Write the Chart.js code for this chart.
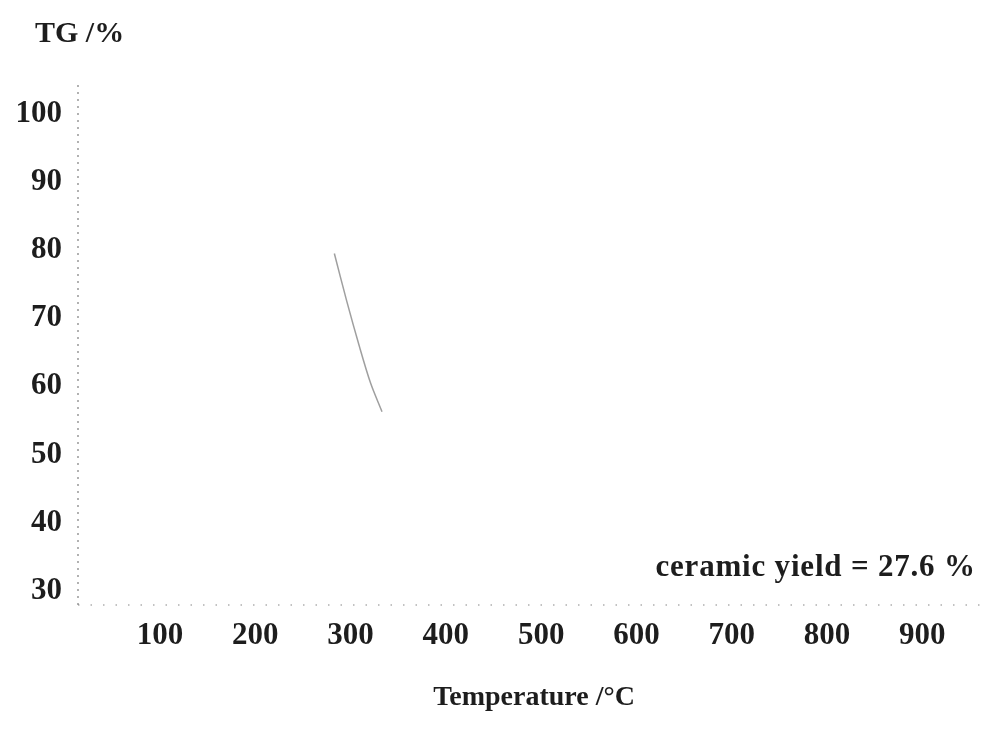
<!DOCTYPE html>
<html>
<head>
<meta charset="utf-8">
<script src="https://cdn.jsdelivr.net/npm/chart.js@4.4.1/dist/chart.umd.min.js"></script>
<style>
  html, body { margin: 0; padding: 0; background: #ffffff; }
  #wrap { width: 997px; height: 733px; position: relative; }
</style>
</head>
<body>
<div id="wrap"><canvas id="tg"></canvas></div>
<script>
// Thermogravimetric trace: temperature (°C) against residual mass (%)
const temperature = [283, 296, 309, 321, 333];
const massPercent = [79.5, 72.5, 66.0, 60.5, 56.3];

const xTicks = [100, 200, 300, 400, 500, 600, 700, 800, 900];
const yTicks = [30, 40, 50, 60, 70, 80, 90, 100];

const yAxisTitle = 'TG /%';
const xAxisTitle = 'Temperature /°C';
const yieldNote = 'ceramic yield = 27.6 %';
const yieldNoteAt = { x: 956, y: 33.4 };

const serif = '"Liberation Serif", "Times New Roman", serif';
const ink = '#1d1d1d';

// dotted axis lines and free-standing captions
const axesAndText = {
  id: 'tgAxesText',
  beforeDatasetsDraw(chart) {
    const ctx = chart.ctx;
    const { left, right, top, bottom } = chart.chartArea;
    ctx.save();
    ctx.lineWidth = 1.4;
    ctx.strokeStyle = 'rgba(110,110,110,0.75)';
    ctx.setLineDash([2, 5]);
    ctx.beginPath();
    ctx.moveTo(left, top);
    ctx.lineTo(left, bottom);
    ctx.stroke();
    ctx.strokeStyle = 'rgba(120,120,120,0.6)';
    ctx.setLineDash([1.5, 11]);
    ctx.beginPath();
    ctx.moveTo(left, bottom);
    ctx.lineTo(right, bottom);
    ctx.stroke();
    ctx.restore();
  },
  afterDraw(chart) {
    const ctx = chart.ctx;
    const xs = chart.scales.x, ys = chart.scales.y;
    ctx.save();
    ctx.fillStyle = ink;
    ctx.textBaseline = 'middle';
    ctx.font = 'bold 30px ' + serif;
    ctx.textAlign = 'left';
    ctx.fillText(yAxisTitle, 35, 34);
    ctx.font = 'bold 31px ' + serif;
    ctx.letterSpacing = '0.8px';
    ctx.textAlign = 'right';
    ctx.fillText(yieldNote, xs.getPixelForValue(yieldNoteAt.x), ys.getPixelForValue(yieldNoteAt.y));
    ctx.letterSpacing = '0px';
    ctx.font = 'bold 28px ' + serif;
    ctx.textAlign = 'center';
    ctx.fillText(xAxisTitle, (chart.chartArea.left + chart.chartArea.right) / 2, 698);
    ctx.restore();
  }
};

new Chart(document.getElementById('tg'), {
  type: 'line',
  data: {
    datasets: [{
      data: temperature.map((t, i) => ({ x: t, y: massPercent[i] })),
      borderColor: 'rgba(135,135,135,0.8)',
      borderWidth: 1.5,
      pointRadius: 0,
      tension: 0.3,
      fill: false
    }]
  },
  options: {
    responsive: true,
    maintainAspectRatio: false,
    animation: false,
    layout: { padding: { top: 85, right: 7, left: 0, bottom: 0 } },
    plugins: { legend: { display: false }, tooltip: { enabled: false } },
    scales: {
      x: {
        type: 'linear',
        min: 14,
        max: 971,
        afterFit(scale) { scale.height = 128; },
        afterBuildTicks(scale) { scale.ticks = xTicks.map(v => ({ value: v })); },
        grid: { display: false, drawTicks: false },
        border: { display: false },
        ticks: {
          color: ink,
          padding: 12,
          maxRotation: 0,
          font: { family: serif, size: 31, weight: 'bold' }
        }
      },
      y: {
        type: 'linear',
        min: 27.95,
        max: 104.2,
        afterFit(scale) { scale.width = 78; },
        afterBuildTicks(scale) { scale.ticks = yTicks.map(v => ({ value: v })); },
        grid: { display: false, drawTicks: false },
        border: { display: false },
        ticks: {
          color: ink,
          padding: 16,
          font: { family: serif, size: 31, weight: 'bold' }
        }
      }
    }
  },
  plugins: [axesAndText]
});
</script>
</body>
</html>
